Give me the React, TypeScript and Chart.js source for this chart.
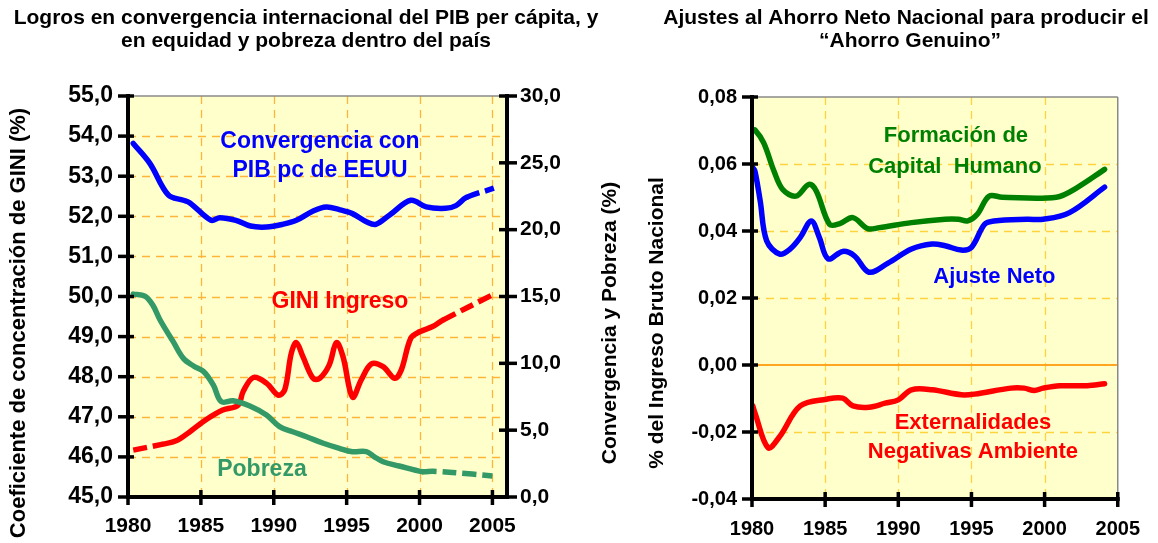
import React, { useEffect, useRef } from 'react';
import { Chart, registerables } from 'chart.js';

Chart.register(...registerables);

// ---------------- Left chart data ----------------
const leftXTicks = [1980, 1985, 1990, 1995, 2000, 2005];
const giniTicks = [45, 46, 47, 48, 49, 50, 51, 52, 53, 54, 55];
const pctTicks = [0, 5, 10, 15, 20, 25, 30];

const convYears = [1980.36, 1981.5, 1982.76, 1983.8, 1984.25, 1985.7, 1986.3, 1987.4, 1988.4, 1989.5, 1990.6, 1991.55, 1992.7, 1993.6, 1994.5, 1995.4, 1996.35, 1997.0, 1997.95, 1999.4, 2000.46, 2001.8, 2002.5, 2003.2, 2005.1];
const convValues = [26.45, 24.96, 22.6, 22.2, 22.0, 20.7, 20.9, 20.7, 20.27, 20.2, 20.4, 20.7, 21.4, 21.7, 21.5, 21.2, 20.6, 20.4, 21.1, 22.2, 21.7, 21.6, 21.8, 22.4, 23.1];
const convDashed: [number, number][] = [[2003.2, 2005.1]];

const giniYears = [1980.36, 1982.4, 1983.3, 1984.25, 1985.4, 1986.5, 1987.55, 1987.9, 1988.6, 1989.5, 1990.3, 1990.75, 1991.2, 1991.55, 1992.0, 1992.7, 1993.15, 1993.8, 1994.3, 1994.75, 1995.4, 1996.0, 1996.7, 1997.5, 1998.3, 1998.75, 1999.4, 2000.0, 2000.9, 2001.6, 2005.0];
const giniValues = [46.17, 46.32, 46.4, 46.63, 46.94, 47.17, 47.29, 47.63, 47.98, 47.84, 47.54, 47.67, 48.58, 48.85, 48.5, 47.96, 47.96, 48.29, 48.85, 48.5, 47.49, 47.92, 48.32, 48.25, 47.96, 48.17, 48.96, 49.12, 49.25, 49.41, 50.04];
const giniDashed: [number, number][] = [[1980.36, 1982.4], [2001.6, 2005.0]];

const pobYears = [1980.36, 1981.16, 1981.7, 1982.2, 1983.1, 1983.8, 1984.5, 1985.2, 1985.85, 1986.4, 1987.2, 1988.36, 1989.5, 1990.4, 1991.3, 1992.25, 1993.4, 1994.5, 1995.4, 1996.35, 1996.9, 1997.5, 1998.6, 2000.2, 2000.9, 2003.6, 2005.0];
const pobValues = [15.18, 15.03, 14.36, 13.24, 11.62, 10.37, 9.8, 9.37, 8.38, 7.13, 7.2, 6.81, 6.13, 5.26, 4.88, 4.51, 4.02, 3.64, 3.39, 3.39, 3.01, 2.64, 2.32, 1.89, 1.93, 1.72, 1.57];
const pobDashed: [number, number][] = [[2000.2, 2005.0]];

// ---------------- Right chart data ----------------
const rightXTicks = [1980, 1985, 1990, 1995, 2000, 2005];
const rightYTicks = [-0.04, -0.02, 0, 0.02, 0.04, 0.06, 0.08];

const capYears = [1980.05, 1980.2, 1980.8, 1981.5, 1982.1, 1983.0, 1983.9, 1984.4, 1985.3, 1986.0, 1986.9, 1987.9, 1988.7, 1990.9, 1993.2, 1994.1, 1994.75, 1995.4, 1996.2, 1997.1, 2000.8, 2002.2, 2004.1];
const capValues = [0.0699, 0.0702, 0.0663, 0.0579, 0.0524, 0.0504, 0.0539, 0.0519, 0.042, 0.0422, 0.044, 0.0407, 0.041, 0.0425, 0.0435, 0.0435, 0.043, 0.045, 0.0504, 0.0501, 0.0501, 0.0529, 0.0584];

const netYears = [1980.05, 1980.2, 1980.56, 1981.0, 1981.9, 1982.6, 1983.3, 1984.05, 1984.6, 1985.2, 1986.2, 1987.0, 1988.0, 1989.3, 1990.9, 1992.3, 1993.2, 1994.3, 1995.0, 1995.9, 1996.55, 1998.8, 1999.9, 2001.7, 2004.1];
const netValues = [0.0589, 0.0579, 0.049, 0.0371, 0.0331, 0.0346, 0.0381, 0.043, 0.0381, 0.0317, 0.0339, 0.0326, 0.0277, 0.0304, 0.0346, 0.0361, 0.0356, 0.0343, 0.0351, 0.042, 0.043, 0.0435, 0.0435, 0.0455, 0.0531];

const extYears = [1980.05, 1980.2, 1981.1, 1981.9, 1983.3, 1985.1, 1986.2, 1986.9, 1988.0, 1989.1, 1990.0, 1990.9, 1992.3, 1994.3, 1995.2, 1997.7, 1998.6, 1999.3, 1999.9, 2001.05, 2002.9, 2004.1];
const extValues = [-0.0122, -0.0143, -0.0247, -0.0213, -0.0122, -0.0102, -0.0099, -0.0122, -0.0126, -0.0114, -0.0104, -0.0074, -0.0074, -0.0089, -0.0087, -0.0069, -0.0069, -0.0076, -0.0069, -0.0062, -0.0062, -0.0056];

// ---------------- helpers ----------------
const FAMILY = '"Liberation Sans", Arial, Helvetica, sans-serif';
const bold = (size: number) => `bold ${size}px ${FAMILY}`;

const pts = (xs: number[], ys: number[]) => xs.map((x, i) => ({ x, y: ys[i] }));

const dashSegment = (ranges: [number, number][]) => {
  const inside = (ctx: any) =>
    ranges.some(([a, b]) => ctx.p0.parsed.x >= a - 1e-6 && ctx.p1.parsed.x <= b + 1e-6);
  return {
    borderDash: (ctx: any) => (inside(ctx) ? [14, 6] : undefined),
    borderCapStyle: (ctx: any) => (inside(ctx) ? 'butt' : 'round'),
  };
};

const lineDs = (label: string, xs: number[], ys: number[], color: string, axis: string, dashed: [number, number][] = []) => ({
  label,
  data: pts(xs, ys),
  borderColor: color,
  backgroundColor: color,
  borderWidth: 5.5,
  pointRadius: 0,
  tension: 0.35,
  borderCapStyle: 'round',
  borderJoinStyle: 'round',
  yAxisID: axis,
  segment: dashSegment(dashed),
});

const setTicks = (arr: number[]) => (scale: any) => {
  scale.ticks = arr.map((value) => ({ value }));
};

const decor = {
  id: 'decor',
  beforeDraw(chart: any, _a: any, o: any) {
    const { ctx, chartArea: a } = chart;
    ctx.save();
    ctx.fillStyle = o.bg;
    ctx.fillRect(a.left, a.top, a.right - a.left, a.bottom - a.top);
    ctx.restore();
  },
  beforeDatasetsDraw(chart: any, _a: any, o: any) {
    const { ctx, chartArea: a, scales } = chart;
    const ys = scales[o.gridY];
    const xs = scales.x;
    const line = (x1: number, y1: number, x2: number, y2: number) => {
      ctx.beginPath();
      ctx.moveTo(x1, y1);
      ctx.lineTo(x2, y2);
      ctx.stroke();
    };
    ctx.save();
    ctx.strokeStyle = o.gridColor;
    ctx.lineWidth = 1.3;
    ctx.setLineDash([8, 6]);
    ys.ticks.forEach((t: any) => {
      const y = Math.round(ys.getPixelForValue(t.value)) + 0.5;
      if (y <= a.top + 2 || y >= a.bottom - 2) return;
      if (o.zeroColor && Math.abs(t.value) < 1e-9) return;
      line(a.left, y, a.right, y);
    });
    xs.ticks.forEach((t: any) => {
      const x = Math.round(xs.getPixelForValue(t.value)) + 0.5;
      if (x <= a.left + 2 || x >= a.right - 2) return;
      line(x, a.top, x, a.bottom);
    });
    ctx.setLineDash([]);
    if (o.zeroColor) {
      ctx.strokeStyle = o.zeroColor;
      ctx.lineWidth = 2;
      const y = ys.getPixelForValue(0);
      line(a.left, y, a.right, y);
    }
    ctx.strokeStyle = '#8a8a8a';
    ctx.lineWidth = 1.5;
    line(a.left, a.top, a.right, a.top);
    if (o.rightBorder) line(a.right, a.top, a.right, a.bottom);
    ctx.restore();
  },
  afterDatasetsDraw(chart: any, _a: any, o: any) {
    const { ctx, chartArea: a, scales } = chart;
    const line = (x1: number, y1: number, x2: number, y2: number) => {
      ctx.beginPath();
      ctx.moveTo(x1, y1);
      ctx.lineTo(x2, y2);
      ctx.stroke();
    };
    ctx.save();
    ctx.strokeStyle = '#000';
    ctx.lineWidth = 4;
    ctx.lineCap = 'square';
    line(a.left, a.top, a.left, a.bottom);
    line(a.left, a.bottom, a.right, a.bottom);
    if (o.rightAxis) line(a.right, a.top, a.right, a.bottom);
    ctx.lineCap = 'butt';
    ctx.lineWidth = 3.5;
    const yl = scales[o.gridY];
    yl.ticks.forEach((t: any) => {
      const y = yl.getPixelForValue(t.value);
      line(a.left - 10, y, a.left + 6, y);
    });
    if (o.rightAxis) {
      const yr = scales[o.rightAxis];
      yr.ticks.forEach((t: any) => {
        const y = yr.getPixelForValue(t.value);
        line(a.right - 8, y, a.right + 10, y);
      });
    }
    const xs = scales.x;
    xs.ticks.forEach((t: any) => {
      const x = xs.getPixelForValue(t.value);
      line(x, a.bottom - 7, x, a.bottom + 8);
    });
    ctx.textAlign = 'center';
    ctx.textBaseline = 'middle';
    (o.labels || []).forEach((l: any) => {
      ctx.font = bold(l.size);
      ctx.fillStyle = l.color;
      ctx.fillText(l.text, xs.getPixelForValue(l.x), scales[l.axis].getPixelForValue(l.y));
    });
    (o.texts || []).forEach((t: any) => {
      ctx.save();
      ctx.font = bold(t.size);
      ctx.fillStyle = '#000';
      ctx.translate(t.cx, t.cy);
      if (t.rot) ctx.rotate(t.rot);
      ctx.fillText(t.text, 0, 0);
      ctx.restore();
    });
    ctx.restore();
  },
};

const tickFont = (size: number) => ({ family: FAMILY, size, weight: 'bold' as const });

const fmt1 = (v: any) => Number(v).toFixed(1).replace('.', ',');
const fmt2 = (v: any) => (Math.abs(Number(v)) < 1e-9 ? 0 : Number(v)).toFixed(2).replace('.', ',');

function LeftChart() {
  const ref = useRef<HTMLCanvasElement>(null);
  useEffect(() => {
    if (!ref.current) return;
    const chart = new Chart(ref.current, {
      type: 'line',
      data: {
        datasets: [
          lineDs('Convergencia con PIB pc de EEUU', convYears, convValues, '#0000FF', 'y1', convDashed),
          lineDs('Pobreza', pobYears, pobValues, '#339966', 'y1', pobDashed),
          lineDs('GINI Ingreso', giniYears, giniValues, '#FF0000', 'y', giniDashed),
        ] as any,
      },
      options: {
        responsive: false,
        animation: false,
        events: [],
        layout: { padding: { top: 96, left: 0, right: 0, bottom: 0 } },
        scales: {
          x: {
            type: 'linear',
            min: 1980,
            max: 2006,
            afterBuildTicks: setTicks(leftXTicks),
            afterFit: (s: any) => { s.height = 46; },
            grid: { display: false, drawTicks: false },
            border: { display: false },
            ticks: { color: '#000', font: tickFont(21), padding: 17, autoSkip: false, maxRotation: 0, callback: (v: any) => String(v) },
          },
          y: {
            position: 'left',
            min: 45,
            max: 55,
            afterBuildTicks: setTicks(giniTicks),
            afterFit: (s: any) => { s.width = 128; },
            grid: { display: false, drawTicks: false },
            border: { display: false },
            ticks: { color: '#000', font: tickFont(23), padding: 15, callback: fmt1 },
          },
          y1: {
            position: 'right',
            min: 0,
            max: 30,
            afterBuildTicks: setTicks(pctTicks),
            afterFit: (s: any) => { s.width = 133; },
            grid: { display: false, drawTicks: false },
            border: { display: false },
            ticks: { color: '#000', font: tickFont(21), padding: 13, callback: fmt1 },
          },
        },
        plugins: {
          legend: { display: false },
          tooltip: { enabled: false },
          decor: {
            bg: '#FFFFCC',
            gridColor: '#FDB53A',
            gridY: 'y',
            rightAxis: 'y1',
            labels: [
              { text: 'Convergencia con', x: 1993.17, y: 26.55, axis: 'y1', color: '#0000FF', size: 23 },
              { text: 'PIB pc de EEUU', x: 1993.17, y: 24.4, axis: 'y1', color: '#0000FF', size: 23 },
              { text: 'GINI Ingreso', x: 1994.54, y: 49.86, axis: 'y', color: '#FF0000', size: 23 },
              { text: 'Pobreza', x: 1989.19, y: 2.02, axis: 'y1', color: '#339966', size: 23 },
            ],
            texts: [
              { text: 'Logros en convergencia internacional del PIB per cápita, y', cx: 306, cy: 18, size: 21 },
              { text: 'en equidad y pobreza dentro del país', cx: 306, cy: 41, size: 21 },
              { text: 'Coeficiente de concentración de GINI (%)', cx: 19, cy: 323, size: 22, rot: -Math.PI / 2 },
              { text: 'Convergencia y Pobreza (%)', cx: 610, cy: 323, size: 21, rot: -Math.PI / 2 },
            ],
          },
        } as any,
      },
      plugins: [decor],
    });
    return () => chart.destroy();
  }, []);
  return <canvas ref={ref} width={640} height={543} style={{ position: 'absolute', left: 0, top: 0 }} />;
}

function RightChart() {
  const ref = useRef<HTMLCanvasElement>(null);
  useEffect(() => {
    if (!ref.current) return;
    const chart = new Chart(ref.current, {
      type: 'line',
      data: {
        datasets: [
          lineDs('Formación de Capital Humano', capYears, capValues, '#008000', 'y'),
          lineDs('Ajuste Neto', netYears, netValues, '#0000FF', 'y'),
          lineDs('Externalidades Negativas Ambiente', extYears, extValues, '#FF0000', 'y'),
        ] as any,
      },
      options: {
        responsive: false,
        animation: false,
        events: [],
        layout: { padding: { top: 97, left: 0, right: 36, bottom: 0 } },
        scales: {
          x: {
            type: 'linear',
            min: 1980,
            max: 2005,
            afterBuildTicks: setTicks(rightXTicks),
            afterFit: (s: any) => { s.height = 44; },
            grid: { display: false, drawTicks: false },
            border: { display: false },
            ticks: { color: '#000', font: tickFont(20), padding: 18, autoSkip: false, maxRotation: 0, callback: (v: any) => String(v) },
          },
          y: {
            position: 'left',
            min: -0.04,
            max: 0.08,
            afterBuildTicks: setTicks(rightYTicks),
            afterFit: (s: any) => { s.width = 112; },
            grid: { display: false, drawTicks: false },
            border: { display: false },
            ticks: { color: '#000', font: tickFont(20), padding: 15, callback: fmt2 },
          },
        },
        plugins: {
          legend: { display: false },
          tooltip: { enabled: false },
          decor: {
            bg: '#FFFFCC',
            gridColor: '#FFD23F',
            zeroColor: '#FFA520',
            rightBorder: true,
            gridY: 'y',
            labels: [
              { text: 'Formación de', x: 1993.94, y: 0.0683, axis: 'y', color: '#008000', size: 22 },
              { text: 'Capital  Humano', x: 1993.87, y: 0.0591, axis: 'y', color: '#008000', size: 22 },
              { text: 'Ajuste Neto', x: 1996.57, y: 0.0264, axis: 'y', color: '#0000FF', size: 22 },
              { text: 'Externalidades', x: 1995.1, y: -0.0172, axis: 'y', color: '#FF0000', size: 22 },
              { text: 'Negativas Ambiente', x: 1995.1, y: -0.0261, axis: 'y', color: '#FF0000', size: 22 },
            ],
            texts: [
              { text: 'Ajustes al Ahorro Neto Nacional para producir el', cx: 266, cy: 18, size: 21 },
              { text: '“Ahorro Genuino”', cx: 270, cy: 41, size: 21 },
              { text: '% del Ingreso Bruto Nacional', cx: 17, cy: 323, size: 21, rot: -Math.PI / 2 },
            ],
          },
        } as any,
      },
      plugins: [decor],
    });
    return () => chart.destroy();
  }, []);
  return <canvas ref={ref} width={518} height={543} style={{ position: 'absolute', left: 640, top: 0 }} />;
}

export default function App() {
  return (
    <div style={{ position: 'absolute', left: 0, top: 0, width: 1158, height: 543, background: '#fff', overflow: 'hidden' }}>
      <LeftChart />
      <RightChart />
    </div>
  );
}
